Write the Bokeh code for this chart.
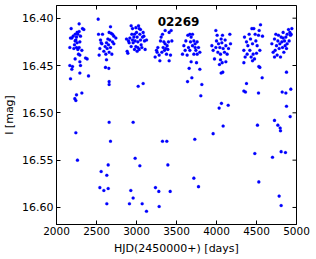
import math
from bokeh.plotting import figure
from bokeh.models import Range1d, FixedTicker, Label, PrintfTickFormatter, ColumnDataSource
from bokeh.embed import file_html
from bokeh.resources import INLINE

title_text = "02269"
x_label = "HJD(2450000+) [days]"
y_label = "I [mag]"
x_ticks = [2000, 2500, 3000, 3500, 4000, 4500, 5000]
y_ticks = [16.40, 16.45, 16.50, 16.55, 16.60]

s1_hjd = [2283, 2183, 2208, 2250, 2267, 2233, 2258, 2283, 2325, 2342, 2167, 2225, 2292, 2275, 2233,
          2363, 2383, 2258, 2250, 2267, 2192, 2242, 2300, 2283, 2217, 2175, 2317, 2233, 2292,
          2167, 2200, 2192, 2300, 2292, 2175, 2400, 2250, 2317, 2229, 2242, 2242, 2262, 2292]
s1_mag = [16.406, 16.411, 16.419, 16.420, 16.417, 16.424, 16.415, 16.414, 16.411, 16.412, 16.431, 16.428, 16.425, 16.438, 16.443,
          16.442, 16.443, 16.426, 16.431, 16.433, 16.421, 16.423, 16.419, 16.431, 16.432, 16.421, 16.434, 16.417, 16.439,
          16.450, 16.451, 16.454, 16.450, 16.458, 16.464, 16.461, 16.481, 16.479, 16.485, 16.487, 16.521, 16.550, 16.446]

s2_hjd = [2521, 2525, 2575, 2550, 2558, 2542, 2533, 2675, 2658, 2683, 2700, 2717, 2742, 2642, 2667,
          2625, 2650, 2608, 2675, 2633, 2592, 2658, 2617, 2692, 2625, 2567, 2700, 2717,
          2612, 2654, 2658, 2658, 2658, 2675, 2646, 2558, 2629, 2542, 2592, 2646, 2629]
s2_mag = [16.401, 16.417, 16.417, 16.423, 16.426, 16.432, 16.439, 16.409, 16.415, 16.416, 16.417, 16.419, 16.421, 16.422, 16.423,
          16.426, 16.428, 16.430, 16.431, 16.432, 16.435, 16.436, 16.438, 16.438, 16.444, 16.427, 16.425, 16.427,
          16.452, 16.453, 16.467, 16.470, 16.510, 16.530, 16.555, 16.562, 16.566, 16.579, 16.582, 16.580, 16.596]

s3_hjd = [2875, 2883, 2892, 2933, 2950, 2942, 2917, 2908, 2933, 2967, 2983, 3000, 3008, 3017, 2992,
          3025, 3033, 3042, 3050, 3058, 3067, 3033, 3083, 3092, 3100, 3108, 3125, 2958, 2975, 2950,
          3075, 3017, 3050, 2992, 3008, 2900, 2975,
          3021, 3083, 2958, 2983, 3042, 2929, 2958, 2912, 3071, 3125]
s3_mag = [16.422, 16.435, 16.437, 16.408, 16.411, 16.417, 16.421, 16.426, 16.430, 16.420, 16.424, 16.415, 16.420, 16.425, 16.430,
          16.408, 16.411, 16.417, 16.423, 16.428, 16.431, 16.433, 16.415, 16.419, 16.424, 16.433, 16.423, 16.426, 16.417, 16.423,
          16.420, 16.431, 16.412, 16.410, 16.435, 16.424, 16.433,
          16.472, 16.469, 16.510, 16.548, 16.556, 16.582, 16.590, 16.596, 16.596, 16.604]

s4_hjd = [3233, 3258, 3292, 3267, 3300, 3325, 3308, 3342, 3358, 3333, 3367, 3383, 3400, 3375, 3408,
          3425, 3442, 3433, 3408, 3358, 3250, 3283, 3350, 3392, 3317,
          3325, 3379, 3392, 3237, 3279, 3421, 3283]
s4_mag = [16.441, 16.436, 16.445, 16.431, 16.424, 16.417, 16.420, 16.425, 16.427, 16.431, 16.432, 16.429, 16.425, 16.438, 16.445,
          16.439, 16.424, 16.413, 16.415, 16.413, 16.434, 16.439, 16.434, 16.433, 16.436,
          16.530, 16.530, 16.555, 16.579, 16.583, 16.583, 16.599]

s5_hjd = [3592, 3575, 3608, 3633, 3617, 3642, 3667, 3683, 3700, 3717, 3675, 3700, 3733, 3758, 3775,
          3792, 3742, 3717, 3667, 3758, 3733, 3650,
          3683, 3750, 3658, 3792, 3692, 3638, 3817, 3804, 3729, 3717, 3775]
s5_mag = [16.429, 16.438, 16.434, 16.439, 16.424, 16.418, 16.417, 16.420, 16.417, 16.424, 16.425, 16.429, 16.427, 16.425, 16.431,
          16.436, 16.434, 16.438, 16.434, 16.438, 16.431, 16.431,
          16.446, 16.447, 16.453, 16.454, 16.463, 16.467, 16.470, 16.482, 16.528, 16.569, 16.578]

s6_hjd = [3942, 3958, 3975, 3992, 4008, 4000, 4025, 4042, 4058, 4067, 4083, 4100, 4117, 4133, 4150,
          4167, 4175, 4050, 4017, 4075, 4050, 4108, 3992,
          4037, 4071, 4117, 4058, 4079, 4062, 4033, 4146, 4083, 3958]
s6_mag = [16.429, 16.434, 16.443, 16.413, 16.418, 16.424, 16.427, 16.431, 16.422, 16.426, 16.432, 16.436, 16.429, 16.438, 16.432,
          16.417, 16.427, 16.438, 16.436, 16.418, 16.444, 16.423, 16.431,
          16.449, 16.447, 16.446, 16.458, 16.457, 16.490, 16.495, 16.492, 16.514, 16.522]

s7_hjd = [4350, 4342, 4358, 4375, 4392, 4408, 4425, 4442, 4467, 4483, 4492, 4508, 4525, 4550, 4533,
          4450, 4417, 4458, 4500, 4542, 4433, 4475, 4575, 4383,
          4342, 4450, 4529, 4542, 4571, 4375, 4342, 4362, 4525, 4512, 4479, 4529]
s7_mag = [16.420, 16.434, 16.441, 16.425, 16.429, 16.417, 16.422, 16.411, 16.411, 16.417, 16.424, 16.429, 16.418, 16.407, 16.413,
          16.427, 16.434, 16.438, 16.437, 16.434, 16.441, 16.443, 16.419, 16.438,
          16.447, 16.445, 16.451, 16.452, 16.463, 16.469, 16.477, 16.478, 16.479, 16.513, 16.543, 16.573]

s8_hjd = [4692, 4708, 4725, 4742, 4750, 4767, 4783, 4792, 4808, 4817, 4825, 4833, 4842, 4850, 4858,
          4867, 4875, 4883, 4900, 4917, 4925, 4933, 4908, 4942, 4758, 4800, 4733, 4883, 4833, 4775, 4725,
          4875, 4821, 4867, 4929, 4875, 4921, 4725, 4767, 4796, 4800, 4808, 4862, 4700, 4783, 4808]
s8_mag = [16.427, 16.436, 16.422, 16.417, 16.429, 16.424, 16.432, 16.427, 16.420, 16.425, 16.431, 16.415, 16.436, 16.424, 16.429,
          16.420, 16.432, 16.417, 16.412, 16.415, 16.418, 16.417, 16.424, 16.411, 16.439, 16.441, 16.434, 16.427, 16.421, 16.418, 16.441,
          16.457, 16.478, 16.479, 16.475, 16.493, 16.504, 16.508, 16.513, 16.516, 16.519, 16.541, 16.542, 16.547, 16.588, 16.598]

hjd = s1_hjd + s2_hjd + s3_hjd + s4_hjd + s5_hjd + s6_hjd + s7_hjd + s8_hjd
mag = s1_mag + s2_mag + s3_mag + s4_mag + s5_mag + s6_mag + s7_mag + s8_mag

FONT = "DejaVu Sans"
X0, X1 = 2000, 5000
Y_BOTTOM, Y_TOP = 16.618, 16.3866

p = figure(width=310, height=257, output_backend="svg", toolbar_location=None,
           x_range=Range1d(X0, X1), y_range=Range1d(Y_BOTTOM, Y_TOP),
           min_border_left=56, min_border_right=14, min_border_top=5, min_border_bottom=33)
p.background_fill_color = "white"
p.border_fill_color = "white"
p.outline_line_color = "black"
p.outline_line_width = 1
p.grid.visible = False

src = ColumnDataSource(data=dict(x=hjd, y=mag))
p.scatter("x", "y", source=src, size=3.1, fill_color="#0000ff", line_color="#0000ff", line_width=0.2)

# inward tick marks on the top and right edges (half of each dash is clipped by the frame)
p.scatter(x=x_ticks, y=[Y_TOP] * len(x_ticks), marker="dash", angle=math.pi / 2, size=8,
          line_color="black", line_width=1)
p.scatter(x=[X1] * len(y_ticks), y=y_ticks, marker="dash", angle=0, size=8,
          line_color="black", line_width=1)

xa = p.xaxis[0]
xa.ticker = FixedTicker(ticks=x_ticks)
xa.axis_label = x_label
ya = p.yaxis[0]
ya.ticker = FixedTicker(ticks=y_ticks)
ya.formatter = PrintfTickFormatter(format="%.2f")
ya.axis_label = y_label

for ax in (xa, ya):
    ax.major_tick_in = 4
    ax.major_tick_out = 0
    ax.minor_tick_line_color = None
    ax.axis_line_color = "black"
    ax.major_tick_line_color = "black"
    ax.major_label_text_font = FONT
    ax.major_label_text_color = "black"
    ax.axis_label_text_font = FONT
    ax.axis_label_text_font_style = "normal"
    ax.axis_label_text_font_size = "11px"
    ax.axis_label_text_color = "black"
xa.major_label_text_font_size = "10.5px"
ya.major_label_text_font_size = "11px"
xa.major_label_standoff = 2
xa.axis_label_standoff = 4
ya.major_label_standoff = 3
ya.axis_label_standoff = 3

p.add_layout(Label(x=3525, y=16.4035, text=title_text, text_font=FONT, text_font_style="bold",
                   text_font_size="12px", text_align="center", text_baseline="middle", text_color="black"))

open("out.html", "w").write(file_html(p, INLINE))
